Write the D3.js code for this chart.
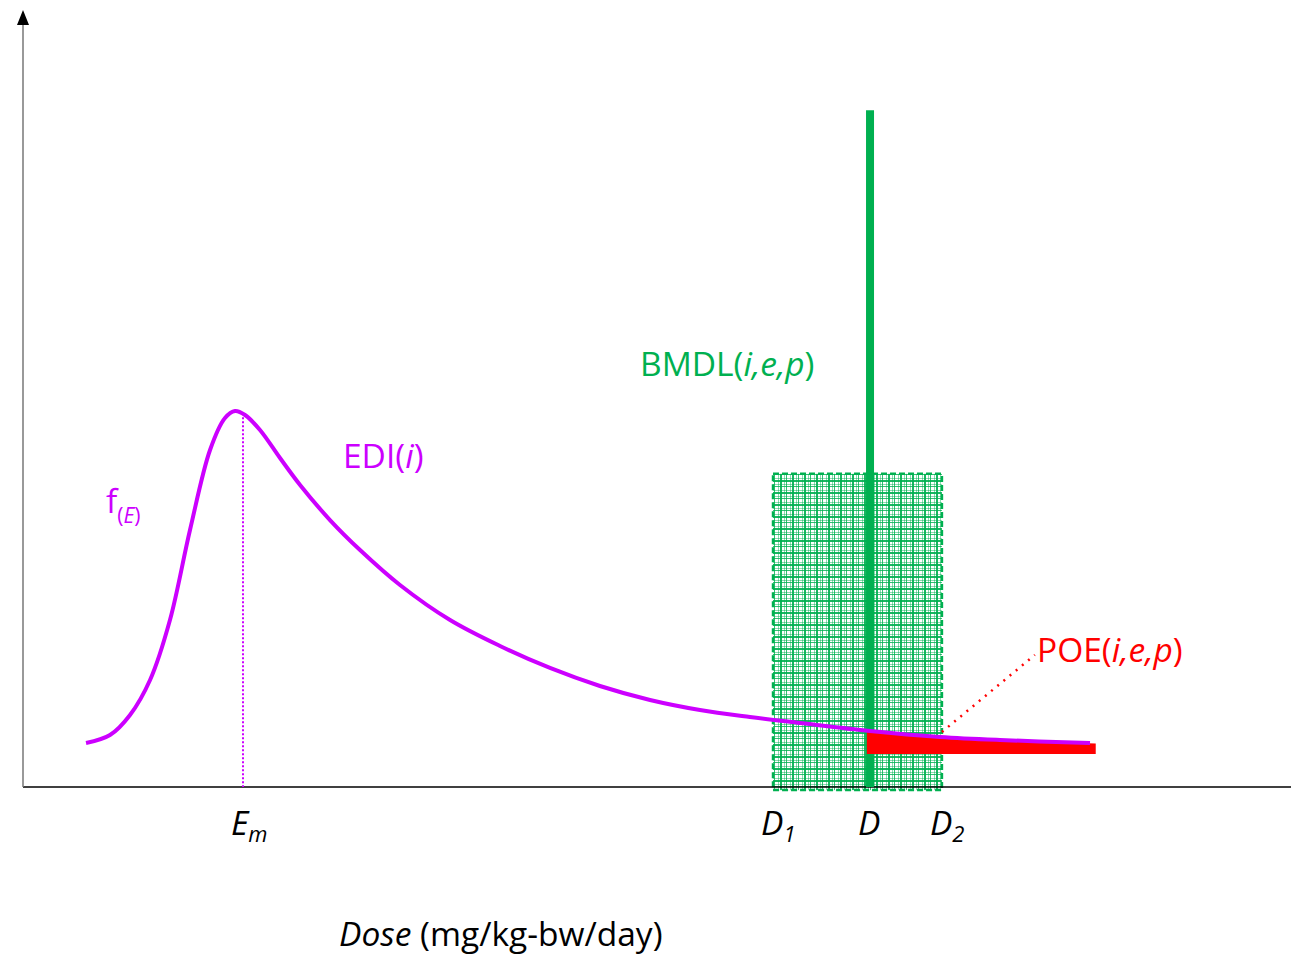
<!DOCTYPE html>
<meta charset="utf-8">
<title>Dose distribution and POE</title>
<script src="https://d3js.org/d3.v7.min.js"></script>
<style>
  body { margin: 0; background: #fff; }
  text { font-family: "Open Sans", Lato, sans-serif; }
</style>
<body>
<script>

// exposure distribution curve f(E) (dose units, density units)
const curveX = [4.97, 6.86, 8.44, 10.02, 11.59, 13.17, 14.75, 15.93, 16.72, 17.51, 18.69, 20.27, 21.85, 24.21, 26.58, 29.73, 33.68, 37.62, 41.56, 45.50, 49.45, 53.39, 57.33, 61.28, 66.80, 72.32, 77.05, 84.15];
const curveY = [5.66, 6.69, 9.27, 13.77, 21.49, 33.08, 43.37, 47.49, 48.39, 47.88, 45.95, 42.34, 38.87, 34.36, 30.50, 26.00, 21.49, 18.15, 15.32, 13.00, 11.20, 9.91, 9.01, 8.24, 7.21, 6.44, 6.05, 5.66];

// key doses on the x axis
const tickNames = ["E", "D", "D", "D"];
const tickSubs = ["m", "1", "", "2"];
const tickDoses = [17.35, 59.15, 66.8, 72.47];

// BMDL line and uncertainty box
const bmdlDose = 66.8;
const bmdlTop = 87.1;
const boxLow = 59.15, boxHigh = 72.47, boxTop = 40.3;

// POE region under the tail
const poeX = [66.55, 72.3, 77.05, 84.6];
const poeTop = [7.1, 6.5, 6.05, 5.6];
const poeBottom = 4.25;

const width = 1291, height = 960;
const margin = { top: 10, right: 0, bottom: 173, left: 23 };

const svg = d3.select("body").append("svg")
  .attr("width", width)
  .attr("height", height);

const x = d3.scaleLinear().domain([0, 100]).range([margin.left, width - margin.right]);
const y = d3.scaleLinear().domain([0, 100]).range([height - margin.bottom, margin.top]);

const magenta = "#cc00ff", green = "#00b050", red = "#ff0000";

// plaid pattern for the uncertainty box
const defs = svg.append("defs");
const pat = defs.append("pattern")
  .attr("id", "plaid")
  .attr("patternUnits", "userSpaceOnUse")
  .attr("width", 12).attr("height", 12);
pat.append("rect").attr("width", 12).attr("height", 12).attr("fill", "#fff");
[[0, 2, 0.9], [4, 1, 0.45], [6, 1, 0.8], [10, 1, 0.45]].forEach(([p, w, o]) => {
  pat.append("rect").attr("x", p).attr("y", 0).attr("width", w).attr("height", 12).attr("fill", green).attr("opacity", o);
  pat.append("rect").attr("x", 0).attr("y", p).attr("width", 12).attr("height", w).attr("fill", green).attr("opacity", o);
});

svg.append("rect")
  .attr("x", x(boxLow))
  .attr("y", y(boxTop))
  .attr("width", x(boxHigh) - x(boxLow))
  .attr("height", y(-0.4) - y(boxTop))
  .attr("fill", "url(#plaid)")
  .attr("stroke", green)
  .attr("stroke-width", 2.5)
  .attr("stroke-dasharray", "6,3");

// axes
svg.append("line")
  .attr("x1", x(0)).attr("x2", x(100))
  .attr("y1", y(0)).attr("y2", y(0))
  .attr("stroke", "#000").attr("stroke-width", 1.5);

svg.append("line")
  .attr("x1", x(0)).attr("x2", x(0))
  .attr("y1", y(0)).attr("y2", y(100) + 14)
  .attr("stroke", "#777").attr("stroke-width", 1.5);

svg.append("path")
  .attr("d", `M${x(0) - 6},${y(100) + 15} L${x(0)},${y(100)} L${x(0) + 6},${y(100) + 15} Z`)
  .attr("fill", "#000");

// Em dotted line
svg.append("line")
  .attr("x1", x(tickDoses[0])).attr("x2", x(tickDoses[0]))
  .attr("y1", y(47.6)).attr("y2", y(0))
  .attr("stroke", magenta).attr("stroke-width", 2)
  .attr("stroke-dasharray", "2,2");

// BMDL vertical line
svg.append("line")
  .attr("x1", x(bmdlDose)).attr("x2", x(bmdlDose))
  .attr("y1", y(bmdlTop)).attr("y2", y(0))
  .attr("stroke", green).attr("stroke-width", 8);

// POE region
const poeArea = d3.area()
  .x((d, i) => x(poeX[i]))
  .y0(y(poeBottom))
  .y1((d, i) => y(poeTop[i]))
  .curve(d3.curveMonotoneX);
svg.append("path")
  .attr("d", poeArea(poeX))
  .attr("fill", red);

// exposure curve
const line = d3.line()
  .x((d, i) => x(curveX[i]))
  .y((d, i) => y(curveY[i]))
  .curve(d3.curveCatmullRom);
svg.append("path")
  .attr("d", line(curveX))
  .attr("fill", "none")
  .attr("stroke", magenta)
  .attr("stroke-width", 4);

// POE leader
svg.append("line")
  .attr("x1", x(72.47)).attr("y1", y(7.08))
  .attr("x2", x(79.8)).attr("y2", y(17.0))
  .attr("stroke", red).attr("stroke-width", 2.5)
  .attr("stroke-dasharray", "2,6");

// labels
function label(px, py, color, parts, size) {
  const t = svg.append("text")
    .attr("x", px).attr("y", py)
    .attr("fill", color)
    .attr("font-size", size);
  parts.forEach(p => {
    const s = t.append("tspan").text(p.t);
    if (p.i) s.attr("font-style", "italic");
    if (p.s) s.attr("font-size", p.s);
    if (p.dy) s.attr("dy", p.dy);
  });
  return t;
}

const fs = 33.5;
label(640, 376, green, [{ t: "BMDL(" }, { t: "i,e,p", i: 1 }, { t: ")" }], fs);
label(343, 468, magenta, [{ t: "EDI(" }, { t: "i", i: 1 }, { t: ")" }], fs);
label(1037, 662, red, [{ t: "POE(" }, { t: "i,e,p", i: 1 }, { t: ")" }], fs);
label(106, 513, magenta, [{ t: "f" }, { t: "(", s: 21, dy: 10 }, { t: "E", s: 21, i: 1 }, { t: ")", s: 21 }], fs);

tickNames.forEach((n, i) => {
  const parts = [{ t: n, i: 1 }];
  if (tickSubs[i]) parts.push({ t: tickSubs[i], i: 1, s: 22, dy: 7 });
  label(x(tickDoses[i]) - 12, 835, "#000", parts, fs);
});

label(339, 946, "#000", [{ t: "Dose", i: 1 }, { t: " (mg/kg-bw/day)" }], fs);

</script>
</body>
